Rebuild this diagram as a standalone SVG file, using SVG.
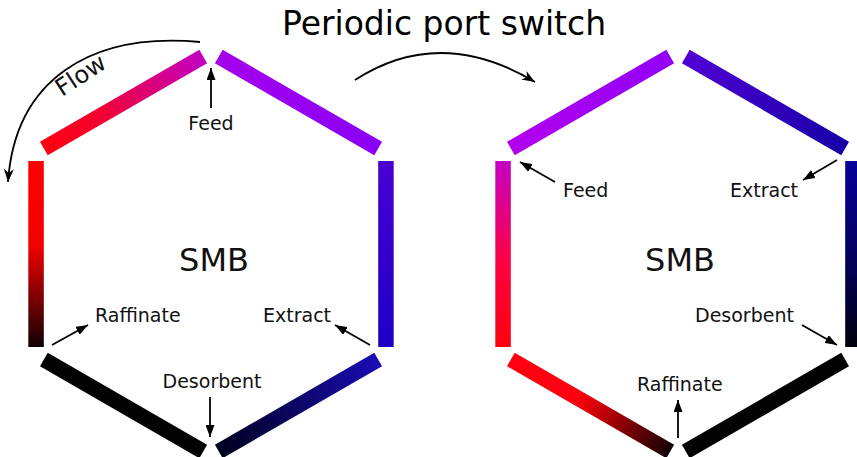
<svg xmlns="http://www.w3.org/2000/svg" width="857" height="457" viewBox="0 0 857 457">
<style>
.seg{fill:none;stroke-width:15.5;stroke-linecap:butt}
.lbl{font-family:"DejaVu Sans",sans-serif;font-size:19px;fill:#111}
.big{font-family:"DejaVu Sans",sans-serif;font-size:32px;fill:#111;text-anchor:middle}
.arr{fill:none;stroke:#000;stroke-width:1.8;marker-end:url(#ah)}
.curve{fill:none;stroke:#000;stroke-width:1.8;marker-end:url(#ah2)}
</style>
<defs>
<marker id="ah" markerUnits="userSpaceOnUse" markerWidth="13" markerHeight="9" refX="12" refY="4.5" orient="auto"><path d="M0,0 L12,4.5 L0,9 z" fill="#000"/></marker>
<marker id="ah2" markerUnits="userSpaceOnUse" markerWidth="14" markerHeight="10" refX="13" refY="5" orient="auto"><path d="M0,0 L13,5 L0,10 L4,5 z" fill="#000"/></marker>
<linearGradient id="L1" gradientUnits="userSpaceOnUse" x1="43.85" y1="148.5" x2="203.21" y2="56.5"><stop offset="0" stop-color="#ff0010"/><stop offset="0.35" stop-color="#f20030"/><stop offset="1" stop-color="#c200c4"/></linearGradient>
<linearGradient id="L2" gradientUnits="userSpaceOnUse" x1="218.79" y1="56.5" x2="378.15" y2="148.5"><stop offset="0" stop-color="#a400ec"/><stop offset="1" stop-color="#8a00f6"/></linearGradient>
<linearGradient id="L3" gradientUnits="userSpaceOnUse" x1="0" y1="161" x2="0" y2="347"><stop offset="0" stop-color="#4800d0"/><stop offset="1" stop-color="#1e00c4"/></linearGradient>
<linearGradient id="L4" gradientUnits="userSpaceOnUse" x1="378.15" y1="359.5" x2="218.79" y2="451.5"><stop offset="0" stop-color="#1a0cb4"/><stop offset="1" stop-color="#00001c"/></linearGradient>
<linearGradient id="L6" gradientUnits="userSpaceOnUse" x1="0" y1="161" x2="0" y2="347"><stop offset="0" stop-color="#ff0000"/><stop offset="0.45" stop-color="#f40000"/><stop offset="1" stop-color="#100004"/></linearGradient>
<linearGradient id="R1" gradientUnits="userSpaceOnUse" x1="510.85" y1="148.5" x2="670.21" y2="56.5"><stop offset="0" stop-color="#b200ee"/><stop offset="1" stop-color="#9200f6"/></linearGradient>
<linearGradient id="R2" gradientUnits="userSpaceOnUse" x1="685.79" y1="56.5" x2="845.15" y2="148.5"><stop offset="0" stop-color="#5000d4"/><stop offset="1" stop-color="#1600a6"/></linearGradient>
<linearGradient id="R3" gradientUnits="userSpaceOnUse" x1="0" y1="161" x2="0" y2="347"><stop offset="0" stop-color="#08009a"/><stop offset="0.5" stop-color="#040060"/><stop offset="1" stop-color="#00000c"/></linearGradient>
<linearGradient id="R5" gradientUnits="userSpaceOnUse" x1="670.21" y1="451.5" x2="510.85" y2="359.5"><stop offset="0" stop-color="#100004"/><stop offset="0.5" stop-color="#e00008"/><stop offset="0.6" stop-color="#ff0010"/><stop offset="1" stop-color="#ff0010"/></linearGradient>
<linearGradient id="R6" gradientUnits="userSpaceOnUse" x1="0" y1="161" x2="0" y2="347"><stop offset="0" stop-color="#c400c4"/><stop offset="0.55" stop-color="#ff0040"/><stop offset="1" stop-color="#ff0010"/></linearGradient>
</defs>
<rect width="857" height="457" fill="#fff"/>
<text x="444" y="35" style="font-family:'DejaVu Sans',sans-serif;font-size:33px;fill:#000;text-anchor:middle">Periodic port switch</text>

<g id="smb-left">
<line class="seg" stroke="url(#L1)" x1="43.85" y1="148.5" x2="203.21" y2="56.5"/>
<line class="seg" stroke="url(#L2)" x1="218.79" y1="56.5" x2="378.15" y2="148.5"/>
<line class="seg" stroke="url(#L3)" x1="385.94" y1="161" x2="385.94" y2="347"/>
<line class="seg" stroke="url(#L4)" x1="378.15" y1="359.5" x2="218.79" y2="451.5"/>
<line class="seg" stroke="#020202" x1="203.21" y1="451.5" x2="43.85" y2="359.5"/>
<line class="seg" stroke="url(#L6)" x1="36.06" y1="161" x2="36.06" y2="347"/>
<text class="big" x="214" y="271">SMB</text>
</g>

<g id="smb-right">
<line class="seg" stroke="url(#R1)" x1="510.85" y1="148.5" x2="670.21" y2="56.5"/>
<line class="seg" stroke="url(#R2)" x1="685.79" y1="56.5" x2="845.15" y2="148.5"/>
<line class="seg" stroke="url(#R3)" x1="852.94" y1="161" x2="852.94" y2="347"/>
<line class="seg" stroke="#020202" x1="845.15" y1="359.5" x2="685.79" y2="451.5"/>
<line class="seg" stroke="url(#R5)" x1="670.21" y1="451.5" x2="510.85" y2="359.5"/>
<line class="seg" stroke="url(#R6)" x1="503.06" y1="161" x2="503.06" y2="347"/>
<text class="big" x="680" y="271">SMB</text>
</g>

<g id="labels">
<text class="lbl" x="211" y="130" text-anchor="middle">Feed</text>
<text class="lbl" x="95" y="322">Raffinate</text>
<text class="lbl" x="263" y="322">Extract</text>
<text class="lbl" x="212" y="388" text-anchor="middle">Desorbent</text>
<text class="lbl" x="563" y="197">Feed</text>
<text class="lbl" x="730" y="197">Extract</text>
<text class="lbl" x="695" y="322">Desorbent</text>
<text class="lbl" x="637" y="391">Raffinate</text>
<text x="62" y="97" transform="rotate(-33 62 97)" style="font-family:'DejaVu Sans',sans-serif;font-size:24px;fill:#111">Flow</text>
</g>

<g id="connectors">
<path class="curve" d="M200,42 C90,32 15,80 8,182"/>
<path class="curve" d="M355,80 Q440,25 535,82"/>
<line class="arr" x1="211" y1="108" x2="211" y2="68"/>
<line class="arr" x1="52" y1="345" x2="88" y2="325"/>
<line class="arr" x1="370" y1="345" x2="335" y2="325"/>
<line class="arr" x1="210" y1="397" x2="210" y2="437"/>
<line class="arr" x1="555" y1="182" x2="520" y2="162"/>
<line class="arr" x1="837" y1="160" x2="803" y2="180"/>
<line class="arr" x1="802" y1="325" x2="837" y2="345"/>
<line class="arr" x1="678" y1="438" x2="678" y2="400"/>
</g>
</svg>
